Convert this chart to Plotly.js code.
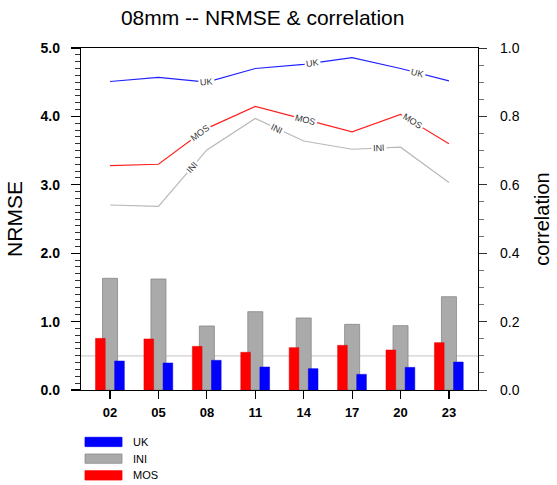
<!DOCTYPE html>
<html>
<head>
<meta charset="utf-8">
<script src="https://cdn.plot.ly/plotly-3.0.1.min.js"></script>
<style>
html,body{margin:0;padding:0;background:#fff;}
#chart{width:557px;height:485px;}
</style>
</head>
<body>
<div id="chart"></div>
<script>
// ---- data ----
const categories = ['02','05','08','11','14','17','20','23'];
const nrmseMOS = [0.755, 0.746, 0.638, 0.551, 0.619, 0.653, 0.585, 0.692];
const nrmseINI = [1.633, 1.623, 0.936, 1.145, 1.053, 0.960, 0.941, 1.364];
const nrmseUK  = [0.424, 0.395, 0.434, 0.336, 0.312, 0.229, 0.331, 0.409];
const corrUK   = [0.902, 0.914, 0.900, 0.940, 0.952, 0.972, 0.940, 0.904];
const corrMOS  = [0.656, 0.660, 0.765, 0.829, 0.792, 0.755, 0.806, 0.720];
const corrINI  = [0.541, 0.537, 0.702, 0.794, 0.728, 0.704, 0.710, 0.607];
const leftTicks  = [0, 1, 2, 3, 4, 5];
const leftTickText  = ['0.0','1.0','2.0','3.0','4.0','5.0'];
const rightTicks = [0, 0.2, 0.4, 0.6, 0.8, 1.0];
const rightTickText = ['0.0','0.2','0.4','0.6','0.8','1.0'];

// ---- styling / layout constants ----
const FONT = 'Liberation Sans, Arial, Helvetica, sans-serif';
const W = 557, H = 485;
const M = {l: 81, r: 79, t: 48, b: 95};
const XR = [-0.6, 7.6];
const pxPerX = (W - M.l - M.r) / (XR[1] - XR[0]);
const pxPerY2 = (H - M.t - M.b) / 1.0;

// inline line label positions (fractional category index)
const labelSpots = [
  {name: 'UK',  vals: corrUK,  at: [2.0, 4.19, 6.34]},
  {name: 'MOS', vals: corrMOS, at: [1.86, 4.04, 6.24]},
  {name: 'INI', vals: corrINI, at: [1.70, 3.45, 5.55]}
];

function interp(vals, t) {
  const i = Math.min(Math.floor(t), vals.length - 2);
  const f = t - i;
  return vals[i] + (vals[i + 1] - vals[i]) * f;
}
function angleAt(vals, t) {
  function segAng(i) {
    const dy = (vals[i + 1] - vals[i]) * pxPerY2;
    return -Math.atan2(dy, pxPerX) * 180 / Math.PI;
  }
  const i = Math.floor(t);
  if (Math.abs(t - i) < 1e-6 && i > 0 && i < vals.length - 1) {
    return (segAng(i - 1) + segAng(i)) / 2;
  }
  return segAng(Math.min(i, vals.length - 2));
}

const traces = [
  {type: 'bar', name: 'INI', x: categories, y: nrmseINI, offset: -0.155, width: 0.31,
   marker: {color: '#aaaaaa', line: {color: '#888888', width: 0.8}}, showlegend: false, yaxis: 'y'},
  {type: 'bar', name: 'MOS', x: categories, y: nrmseMOS, offset: -0.30, width: 0.20,
   marker: {color: '#ff0000', line: {color: '#dd0000', width: 0.5}}, showlegend: false, yaxis: 'y'},
  {type: 'bar', name: 'UK', x: categories, y: nrmseUK, offset: 0.095, width: 0.20,
   marker: {color: '#0000ff', line: {color: '#0000dd', width: 0.5}}, showlegend: false, yaxis: 'y'},
  {type: 'scatter', mode: 'lines', name: 'UK corr', x: categories, y: corrUK, yaxis: 'y2',
   line: {color: '#2222ff', width: 1.2}, showlegend: false},
  {type: 'scatter', mode: 'lines', name: 'MOS corr', x: categories, y: corrMOS, yaxis: 'y2',
   line: {color: '#ff2222', width: 1.2}, showlegend: false},
  {type: 'scatter', mode: 'lines', name: 'INI corr', x: categories, y: corrINI, yaxis: 'y2',
   line: {color: '#b8b8b8', width: 1.2}, showlegend: false}
];

const annotations = [];
labelSpots.forEach(s => {
  s.at.forEach(t => {
    annotations.push({
      xref: 'x', yref: 'y2', x: t, y: interp(s.vals, t),
      text: s.name, showarrow: false, textangle: angleAt(s.vals, t),
      font: {family: FONT, size: 9, color: '#333'},
      bgcolor: '#ffffff', borderpad: 1
    });
  });
});

// legend (drawn as boxes + text below the plot)
const legendItems = [
  {name: 'UK',  color: '#0000ff', line: '#0000ff'},
  {name: 'INI', color: '#aaaaaa', line: '#8a8a8a'},
  {name: 'MOS', color: '#ff0000', line: '#ff0000'}
];
const plotH = H - M.t - M.b, plotW = W - M.l - M.r;
const shapes = [
  {type: 'line', xref: 'paper', yref: 'y', x0: 0, x1: 1, y0: 0.5, y1: 0.5,
   line: {color: '#d0d0d0', width: 1.2}, layer: 'below'}
];
legendItems.forEach((it, k) => {
  const top = 437.3 + k * 16.7, bot = top + 9.3;
  shapes.push({type: 'rect', xref: 'paper', yref: 'paper',
    x0: (85 - M.l) / plotW, x1: (122 - M.l) / plotW,
    y0: (H - M.b - bot) / plotH, y1: (H - M.b - top) / plotH,
    fillcolor: it.color, line: {color: it.line, width: 0.8}});
  annotations.push({xref: 'paper', yref: 'paper', x: (131 - M.l) / plotW,
    y: (H - M.b - (top + bot) / 2) / plotH, xanchor: 'left', yanchor: 'middle',
    text: it.name, showarrow: false, font: {family: FONT, size: 11, color: '#000'}});
});

const layout = {
  width: W, height: H,
  margin: M,
  paper_bgcolor: '#fff', plot_bgcolor: '#fff',
  barmode: 'overlay',
  showlegend: false,
  font: {family: FONT, color: '#000'},
  title: {text: '08mm -- NRMSE & correlation', font: {family: FONT, size: 21, color: '#000'},
          x: (262.7 - M.l) / plotW, xref: 'paper', xanchor: 'center',
          y: 1 - 18 / H, yref: 'container', yanchor: 'middle'},
  xaxis: {type: 'category', range: XR, showgrid: false, zeroline: false,
          showline: true, linecolor: '#000', linewidth: 1.2, mirror: true,
          ticks: 'outside', ticklen: 8, tickwidth: 1.2, tickcolor: '#000',
          tickfont: {family: FONT, size: 13, color: '#000', weight: 'bold'},
          ticklabelstandoff: 2},
  yaxis: {range: [0, 5], showgrid: false, zeroline: false,
          showline: true, linecolor: '#000', linewidth: 1.2,
          ticks: 'outside', ticklen: 9, tickwidth: 1.2, tickcolor: '#000',
          tickvals: leftTicks, ticktext: leftTickText,
          minor: {dtick: 0.1, ticks: 'outside', ticklen: 5, tickwidth: 0.8, tickcolor: '#000'},
          tickfont: {family: FONT, size: 14, color: '#000', weight: 'bold'},
          ticklabelstandoff: 8,
          title: {text: 'NRMSE', font: {family: FONT, size: 21, color: '#000'}, standoff: 12}},
  yaxis2: {range: [0, 1], overlaying: 'y', side: 'right', showgrid: false, zeroline: false,
           showline: true, linecolor: '#000', linewidth: 1.2,
           ticks: 'outside', ticklen: 8, tickwidth: 1, tickcolor: '#333',
           tickvals: rightTicks, ticktext: rightTickText,
           minor: {dtick: 0.05, ticks: 'outside', ticklen: 5, tickwidth: 0.8, tickcolor: '#555'},
           tickfont: {family: FONT, size: 14, color: '#000'},
           ticklabelstandoff: 10,
           title: {text: 'correlation', font: {family: FONT, size: 20, color: '#000'}, standoff: 16}},
  shapes: shapes,
  annotations: annotations
};

Plotly.newPlot('chart', traces, layout, {displayModeBar: false, staticPlot: true});
</script>
</body>
</html>
